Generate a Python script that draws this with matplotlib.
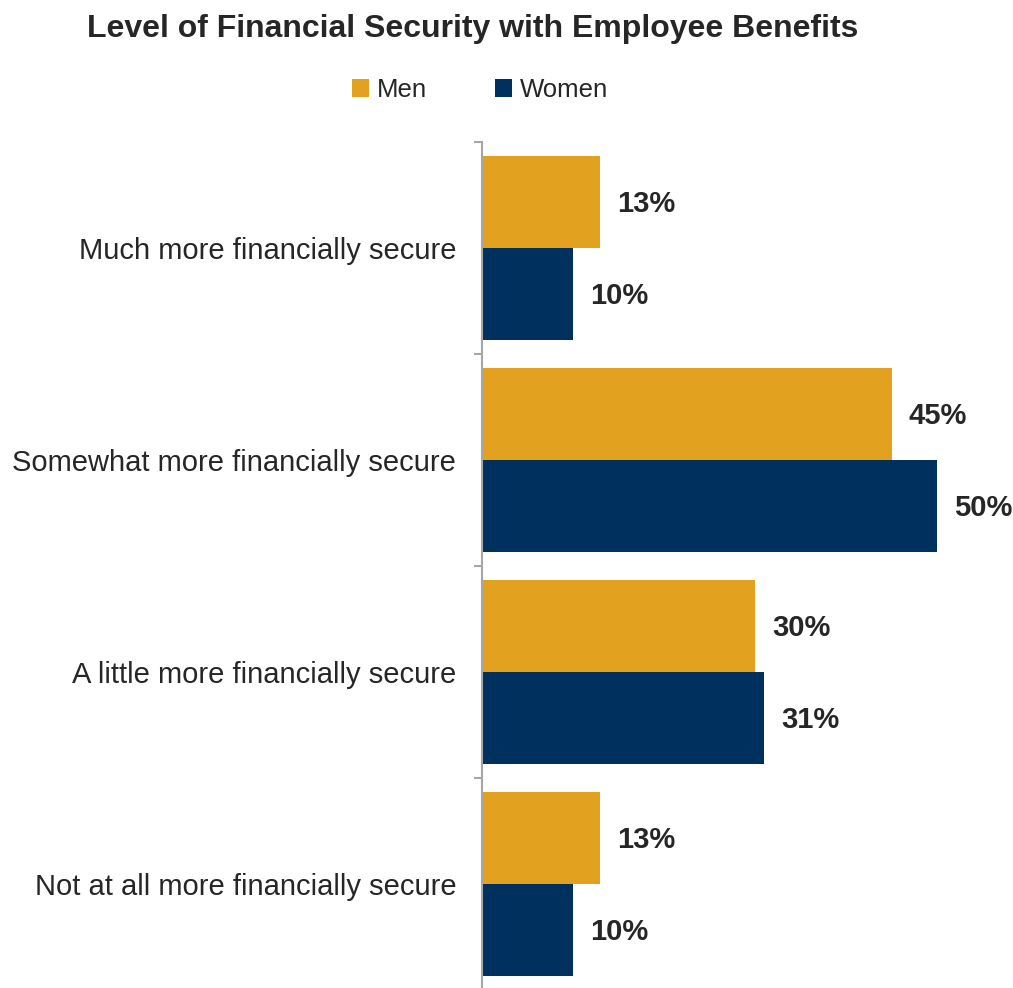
import matplotlib
matplotlib.use("Agg")
import matplotlib.pyplot as plt
import numpy as np

# data
categories = ["Much more financially secure",
              "Somewhat more financially secure",
              "A little more financially secure",
              "Not at all more financially secure"]
men = [13, 45, 30, 13]
women = [10, 50, 31, 10]
series_names = ["Men", "Women"]

men_color = "#E2A11F"
women_color = "#00305E"
text_color = "#262626"

plt.rcParams['font.family'] = ['Liberation Sans', 'DejaVu Sans']

W, H = 1013, 988
fig = plt.figure(figsize=(W / 100, H / 100), dpi=100)
ax = fig.add_axes([482 / W, -2 / H, 531 / W, 848 / H])

y = np.arange(len(categories))
h = 0.436
b1 = ax.barh(y - h / 2, men, height=h, color=men_color, label=series_names[0])
b2 = ax.barh(y + h / 2, women, height=h, color=women_color, label=series_names[1])

ax.set_xlim(0, 531 / 9.1)
ax.set_ylim(3.5, -0.5)

# value labels
for bars, vals in [(b1, men), (b2, women)]:
    for bar, v in zip(bars, vals):
        ax.annotate(f"{v}%", (v, bar.get_y() + bar.get_height() / 2),
                    xytext=(17, -2), textcoords="offset pixels",
                    ha="left", va="center", fontsize=21, fontweight="bold",
                    color=text_color)

for s in ["top", "right", "bottom"]:
    ax.spines[s].set_visible(False)
ax.spines["left"].set_color("#A6A6A6")
ax.spines["left"].set_linewidth(1.5)
ax.xaxis.set_visible(False)

ax.set_yticks(y)
ax.set_yticklabels(categories, fontsize=21, color=text_color)
ax.tick_params(axis="y", which="major", length=0, pad=18.5)
ax.set_yticks(np.arange(-0.5, 4.0, 1.0), minor=True)
ax.tick_params(axis="y", which="minor", length=6, width=1.5, color="#A6A6A6")

fig.text(473 / W, 1 - 29 / H, "Level of Financial Security with Employee Benefits",
         ha="center", va="center", fontsize=23, fontweight="bold", color=text_color)

fig.legend(handles=[b1, b2], loc="center", bbox_to_anchor=(480 / W, 1 - 90 / H),
           ncol=2, frameon=False, handlelength=0.66, handleheight=0.66,
           handletextpad=0.31, columnspacing=2.65,
           prop={"size": 18.5}, labelcolor=text_color, borderpad=0)

fig.savefig("out.png", dpi=100)
